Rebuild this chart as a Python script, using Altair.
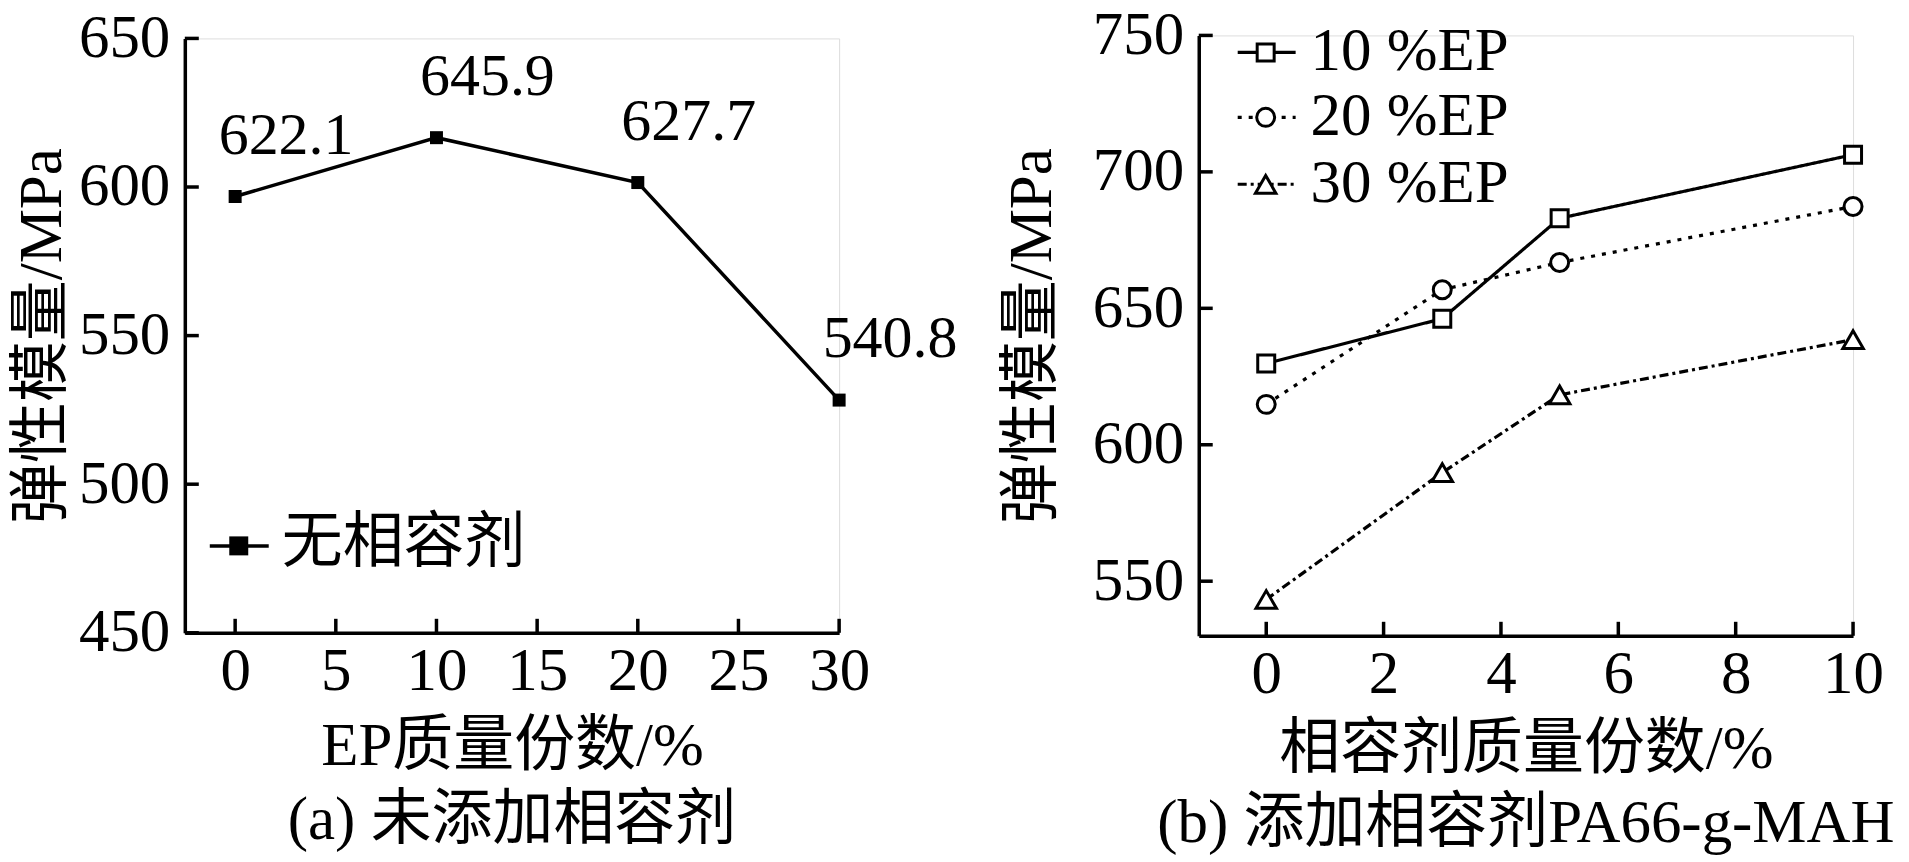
import altair as alt
import pandas as pd

FONT = "Liberation Serif, Noto Sans CJK SC"
LATIN = "Liberation Serif"
FS = 61

# ---------------- data: panel (a) ----------------
a_x = [0, 10, 20, 30]
a_y = [596.8, 616.6, 601.5, 528.3]          # plotted positions
a_labels = ["622.1", "645.9", "627.7", "540.8"]  # printed value labels
a_xticks = [0, 5, 10, 15, 20, 25, 30]
a_yticks = [450, 500, 550, 600, 650]
a_legend = ["无相容剂"]
a_xtitle = "EP质量份数/%"
a_caption = "(a) 未添加相容剂"

# ---------------- data: panel (b) ----------------
b_x = [0, 3, 5, 10]
b_10 = [629.8, 646.2, 683.0, 706.3]
b_20 = [614.8, 656.8, 666.8, 687.3]
b_30 = [543.3, 589.8, 618.3, 638.5]
b_series = ["10 %EP", "20 %EP", "30 %EP"]
b_xticks = [0, 2, 4, 6, 8, 10]
b_yticks = [550, 600, 650, 700, 750]
b_xtitle = "相容剂质量份数/%"
b_caption = "(b) 添加相容剂PA66-g-MAH"
ytitle = "弹性模量/MPa"

AW, AH = 655, 595
BW, BH = 655, 601
TICK = 14
SW = 3.5


def mk_axis(values, title, label_pad, title_pad):
    return alt.Axis(values=values, title=title, ticks=False, grid=False,
                    domainColor="black", domainWidth=SW,
                    labelFont=LATIN, labelFontSize=FS, labelColor="black",
                    labelPadding=label_pad, labelFlush=False, labelOverlap=False,
                    titleFont=FONT, titleFontSize=FS, titleFontWeight="normal",
                    titleColor="black", titlePadding=title_pad, format="d")


def caption(text):
    return alt.TitleParams(text=text, orient="bottom", font=FONT, fontSize=FS,
                           fontWeight="normal", color="black", offset=14,
                           frame="group", anchor="middle")


# ---------------- panel (a) ----------------
xa_s = alt.Scale(domain=[-2.5, 30], nice=False, zero=False)
ya_s = alt.Scale(domain=[450, 650], nice=False, zero=False)
xa_ax = mk_axis(a_xticks, a_xtitle, 9, 15)
ya_ax = mk_axis(a_yticks, ytitle, 15, 5)

da = pd.DataFrame({"x": a_x, "y": a_y, "label": a_labels})
XA = alt.X("x:Q", scale=xa_s, axis=xa_ax)
YA = alt.Y("y:Q", scale=ya_s, axis=ya_ax)

a_line = alt.Chart(da).mark_line(color="black", strokeWidth=SW).encode(x=XA, y=YA)
a_pts = alt.Chart(da).mark_point(shape="square", filled=True, size=169,
                                 color="black", opacity=1).encode(x=XA, y=YA)
a_txt = alt.Chart(da).mark_text(font=LATIN, fontSize=60, dx=51, dy=-61,
                                color="black", baseline="middle").encode(
    x=XA, y=YA, text="label:N")
a_xt = alt.Chart(pd.DataFrame({"x": a_xticks})).mark_rule(
    color="black", strokeWidth=SW).encode(x=XA, y=alt.value(AH), y2=alt.value(AH - TICK))
a_yt = alt.Chart(pd.DataFrame({"y": a_yticks})).mark_rule(
    color="black", strokeWidth=SW).encode(y=YA, x=alt.value(0), x2=alt.value(TICK))

leg_a = pd.DataFrame({"name": a_legend})
a_leg_line = alt.Chart(leg_a).mark_rule(color="black", strokeWidth=SW).encode(
    x=alt.value(25), x2=alt.value(84), y=alt.value(508))
a_leg_pt = alt.Chart(leg_a).mark_point(shape="square", filled=True, size=361,
                                       color="black", opacity=1).encode(
    x=alt.value(54), y=alt.value(508))
a_leg_txt = alt.Chart(leg_a).mark_text(font=FONT, fontSize=FS, align="left",
                                       baseline="middle", color="black").encode(
    x=alt.value(97), y=alt.value(506), text="name:N")

panel_a = alt.layer(a_xt, a_yt, a_line, a_pts, a_txt, a_leg_line, a_leg_pt, a_leg_txt).properties(
    width=AW, height=AH, title=caption(a_caption))

# ---------------- panel (b) ----------------
xb_s = alt.Scale(domain=[-1.15, 10], nice=False, zero=False)
yb_s = alt.Scale(domain=[530, 750], nice=False, zero=False)
xb_ax = mk_axis(b_xticks, b_xtitle, 9, 15)
yb_ax = mk_axis(b_yticks, ytitle, 15, 29)
XB = alt.X("x:Q", scale=xb_s, axis=xb_ax)
YB = alt.Y("y:Q", scale=yb_s, axis=yb_ax)

shapes = ["square", "circle", "triangle-up"]
sizes = [289, 324, 420]
dashes = [[1, 0], [4, 7], [9, 4, 3, 4]]
values = [b_10, b_20, b_30]
leg_y = [17, 82, 149]

b_layers = [
    alt.Chart(pd.DataFrame({"x": b_xticks})).mark_rule(color="black", strokeWidth=SW).encode(
        x=XB, y=alt.value(BH), y2=alt.value(BH - TICK)),
    alt.Chart(pd.DataFrame({"y": b_yticks})).mark_rule(color="black", strokeWidth=SW).encode(
        y=YB, x=alt.value(0), x2=alt.value(TICK)),
]
for name, vals, shp, sz, dsh in zip(b_series, values, shapes, sizes, dashes):
    d = pd.DataFrame({"x": b_x, "y": vals, "series": name})
    b_layers.append(alt.Chart(d).mark_line(color="black", strokeWidth=3.2,
                                           strokeDash=dsh).encode(x=XB, y=YB))
for name, vals, shp, sz, dsh in zip(b_series, values, shapes, sizes, dashes):
    d = pd.DataFrame({"x": b_x, "y": vals, "series": name})
    b_layers.append(alt.Chart(d).mark_point(shape=shp, size=sz, filled=True, fill="white",
                                            stroke="black", strokeWidth=3, opacity=1).encode(
        x=XB, y=YB))
for name, ly, shp, sz, dsh in zip(b_series, leg_y, shapes, sizes, dashes):
    ld = pd.DataFrame({"name": [name]})
    b_layers.append(alt.Chart(ld).mark_rule(color="black", strokeWidth=3.2,
                                            strokeDash=dsh).encode(
        x=alt.value(39), x2=alt.value(97), y=alt.value(ly)))
    b_layers.append(alt.Chart(ld).mark_point(shape=shp, size=sz, filled=True, fill="white",
                                             stroke="black", strokeWidth=3, opacity=1).encode(
        x=alt.value(67), y=alt.value(ly)))
    b_layers.append(alt.Chart(ld).mark_text(font=LATIN, fontSize=FS, align="left",
                                            baseline="middle", color="black").encode(
        x=alt.value(112), y=alt.value(ly), text="name:N"))

panel_b = alt.layer(*b_layers).properties(width=BW, height=BH, title=caption(b_caption))

chart = alt.hconcat(panel_a, panel_b, spacing=360, bounds="flush", center=True).properties(
    padding={"left": 3, "top": -5, "right": 5, "bottom": 2}
).configure_view(stroke=None).configure(background="white")

chart.save("out.html", embed_options={"renderer": "svg", "actions": False})
